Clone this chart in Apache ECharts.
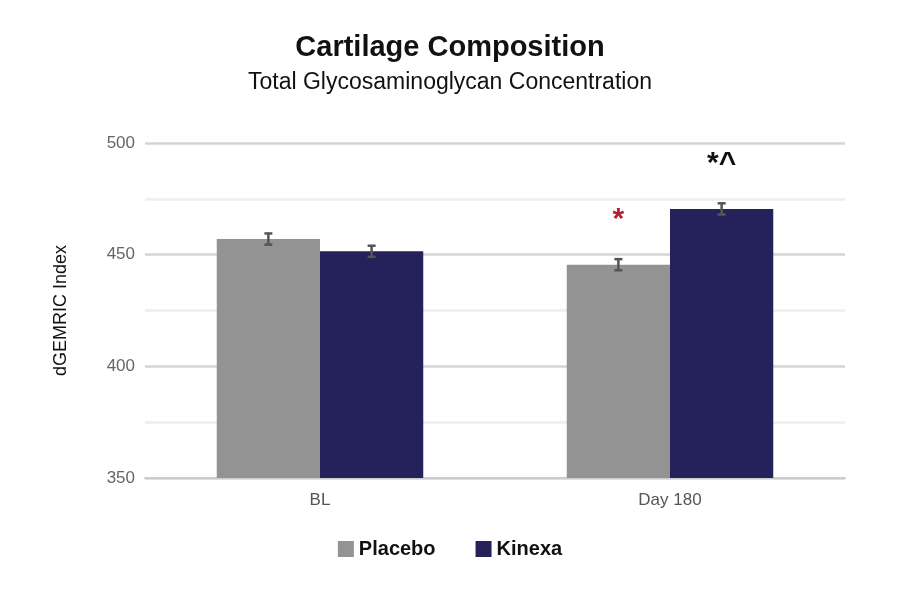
<!DOCTYPE html>
<html><head><meta charset="utf-8">
<script src="https://cdn.jsdelivr.net/npm/echarts@6/dist/echarts.min.js"></script>
<style>html,body{margin:0;background:#fff}#c{width:900px;height:600px}</style></head>
<body><div id="c"></div>
<script>
const categories = ['BL', 'Day 180'];
const placebo = [457, 445.5];
const kinexa = [451.5, 470.5];
const placeboErr = [2.5, 2.5];
const kinexaErr = [2.5, 2.5];
const placeboMarks = ['', '*'];
const kinexaMarks = ['', '*^'];

function mk(vals, marks, color){
  return vals.map((v,i)=>({value:v, label: marks[i] ? {show:true, position:'top', distance:30, formatter:marks[i], color:color, fontSize:30, fontWeight:'bold', fontFamily:'Liberation Sans'} : {show:false}}));
}
function errSeries(vals, errs, idx){
  return {type:'custom', z:5, data: vals.map((v,i)=>[i, v, errs[i]]),
    renderItem:(params, api)=>{
      const i = api.value(0), v = api.value(1), e = api.value(2);
      const bw = api.size([1,0])[0]*0.59/2;
      const cx = api.coord([i, v])[0] + (idx===0 ? -bw/2 : bw/2);
      const t = api.coord([i, v+e])[1], b = api.coord([i, v-e])[1];
      const s = {stroke:'#555', lineWidth:2.5};
      return {type:'group', children:[
        {type:'line', shape:{x1:cx,y1:t,x2:cx,y2:b}, style:s},
        {type:'line', shape:{x1:cx-4,y1:t,x2:cx+4,y2:t}, style:s},
        {type:'line', shape:{x1:cx-4,y1:b,x2:cx+4,y2:b}, style:s}]};
    }};
}
const chart = echarts.init(document.getElementById('c'));
chart.setOption({
  animation:false,
  textStyle:{fontFamily:'Liberation Sans'},
  title:[{text:'Cartilage Composition', left:'center', top:28, textStyle:{fontSize:29, fontWeight:'bold', color:'#111'}},
         {text:'Total Glycosaminoglycan Concentration', left:'center', top:66, textStyle:{fontSize:23, fontWeight:'normal', color:'#111'}}],
  legend:{bottom:36, left:'center', itemWidth:16, itemHeight:16, itemGap:40, icon:'rect',
    textStyle:{fontSize:20, fontWeight:'bold', color:'#111'}, data:['Placebo','Kinexa']},
  grid:{left:145, right:55, top:143, bottom:122},
  xAxis:{type:'category', data:categories, axisTick:{show:false},
    axisLine:{lineStyle:{color:'#ccc', width:2}},
    axisLabel:{fontSize:17, color:'#555', margin:14}},
  yAxis:{type:'value', min:350, max:500, interval:25,
    name:'dGEMRIC Index', nameLocation:'middle', nameGap:75, nameRotate:90,
    nameTextStyle:{fontSize:18, color:'#111'},
    axisLine:{show:false}, axisTick:{show:false},
    axisLabel:{fontSize:17, color:'#666', margin:10, formatter:v=> v%50===0 ? String(v) : ''},
    splitLine:{lineStyle:{color:['#d4d4d4','#eeeeee'], width:2.5}}},
  series:[
    {name:'Placebo', type:'bar', data:mk(placebo, placeboMarks, '#b22234'), itemStyle:{color:'#939393'}, barGap:'0%', barCategoryGap:'41%'},
    {name:'Kinexa', type:'bar', data:mk(kinexa, kinexaMarks, '#111'), itemStyle:{color:'#25215b'}},
    errSeries(placebo, placeboErr, 0),
    errSeries(kinexa, kinexaErr, 1)
  ]
});
</script></body></html>
